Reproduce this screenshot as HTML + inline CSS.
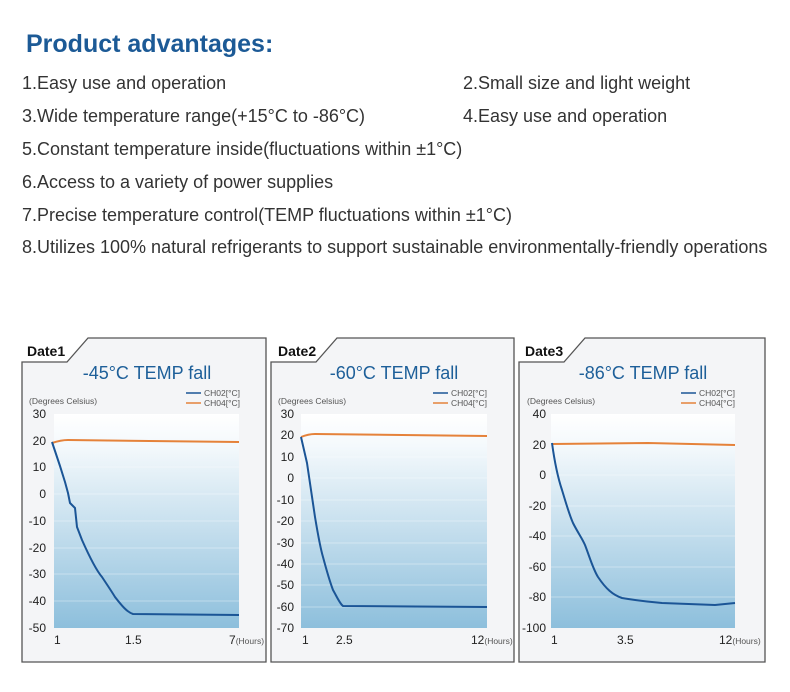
<!DOCTYPE html>
<html><head><meta charset="utf-8"><style>
html,body{margin:0;padding:0;background:#fff;}
svg{display:block;font-family:"Liberation Sans",sans-serif;}
</style></head><body>
<svg width="790" height="692" viewBox="0 0 790 692" xmlns="http://www.w3.org/2000/svg">
<defs>
<linearGradient id="g" x1="0" y1="0" x2="0" y2="1">
<stop offset="0" stop-color="#ffffff"/><stop offset="0.15" stop-color="#f4f9fc"/><stop offset="1" stop-color="#8dbfdc"/>
</linearGradient>
</defs>
<text x="26" y="52" font-size="25" fill="#1c5a96" font-weight="bold">Product advantages:</text>
<g font-size="18" fill="#333">
<text x="22" y="89">1.Easy use and operation</text>
<text x="463" y="89">2.Small size and light weight</text>
<text x="22" y="122">3.Wide temperature range(+15°C to -86°C)</text>
<text x="463" y="122">4.Easy use and operation</text>
<text x="22" y="155">5.Constant temperature inside(fluctuations within ±1°C)</text>
<text x="22" y="188">6.Access to a variety of power supplies</text>
<text x="22" y="221">7.Precise temperature control(TEMP fluctuations within ±1°C)</text>
<text x="22" y="253">8.Utilizes 100% natural refrigerants to support sustainable environmentally-friendly operations</text>
</g>

<!-- Panel frames -->
<g fill="#f4f5f7" stroke="#555" stroke-width="1.3">
<path d="M22,362 L67,362 L88,338 L266,338 L266,662 L22,662 Z"/>
<path d="M271,362 L316,362 L337,338 L514,338 L514,662 L271,662 Z"/>
<path d="M519,362 L564,362 L585,338 L765,338 L765,662 L519,662 Z"/>
</g>
<g font-size="14" font-weight="bold" fill="#111">
<text x="27" y="356">Date1</text><text x="278" y="356">Date2</text><text x="525" y="356">Date3</text>
</g>
<g font-size="18" fill="#1d5f99" text-anchor="middle">
<text x="147" y="379">-45°C TEMP fall</text>
<text x="394" y="379">-60°C TEMP fall</text>
<text x="643" y="379">-86°C TEMP fall</text>
</g>
<g font-size="8.5" fill="#555">
<text x="29" y="404">(Degrees Celsius)</text><text x="278" y="404">(Degrees Celsius)</text><text x="527" y="404">(Degrees Celsius)</text>
<text x="204" y="396">CH02[°C]</text><text x="204" y="406">CH04[°C]</text>
<text x="451" y="396">CH02[°C]</text><text x="451" y="406">CH04[°C]</text>
<text x="699" y="396">CH02[°C]</text><text x="699" y="406">CH04[°C]</text>
</g>
<g stroke-width="1.5">
<line x1="186" y1="393" x2="201" y2="393" stroke="#1b5596"/><line x1="186" y1="403" x2="201" y2="403" stroke="#e5823a"/>
<line x1="433" y1="393" x2="448" y2="393" stroke="#1b5596"/><line x1="433" y1="403" x2="448" y2="403" stroke="#e5823a"/>
<line x1="681" y1="393" x2="696" y2="393" stroke="#1b5596"/><line x1="681" y1="403" x2="696" y2="403" stroke="#e5823a"/>
</g>

<!-- plot areas -->
<rect x="54" y="414" width="185" height="214" fill="url(#g)"/>
<rect x="301" y="414" width="186" height="214" fill="url(#g)"/>
<rect x="551" y="414" width="184" height="214" fill="url(#g)"/>
<g stroke="#ffffff" stroke-opacity="0.35" stroke-width="1">
<path d="M54,441H239M54,467H239M54,494H239M54,521H239M54,548H239M54,574H239M54,601H239"/>
<path d="M301,435H487M301,457H487M301,478H487M301,500H487M301,521H487M301,543H487M301,564H487M301,585H487M301,607H487"/>
<path d="M551,445H735M551,475H735M551,506H735M551,536H735M551,567H735M551,597H735"/>
</g>
<g font-size="12" fill="#222" text-anchor="end">
<text x="46" y="418">30</text><text x="46" y="445">20</text><text x="46" y="471">10</text><text x="46" y="498">0</text><text x="46" y="525">-10</text><text x="46" y="552">-20</text><text x="46" y="578">-30</text><text x="46" y="605">-40</text><text x="46" y="632">-50</text>
<text x="294" y="418">30</text><text x="294" y="439">20</text><text x="294" y="461">10</text><text x="294" y="482">0</text><text x="294" y="504">-10</text><text x="294" y="525">-20</text><text x="294" y="547">-30</text><text x="294" y="568">-40</text><text x="294" y="589">-50</text><text x="294" y="611">-60</text><text x="294" y="632">-70</text>
<text x="546" y="418">40</text><text x="546" y="449">20</text><text x="546" y="479">0</text><text x="546" y="510">-20</text><text x="546" y="540">-40</text><text x="546" y="571">-60</text><text x="546" y="601">-80</text><text x="546" y="632">-100</text>
</g>
<g font-size="12" fill="#222">
<text x="54" y="644">1</text><text x="125" y="644">1.5</text><text x="229" y="644">7<tspan font-size="8.5" fill="#555">(Hours)</tspan></text>
<text x="302" y="644">1</text><text x="336" y="644">2.5</text><text x="471" y="644">12<tspan font-size="8.5" fill="#555">(Hours)</tspan></text>
<text x="551" y="644">1</text><text x="617" y="644">3.5</text><text x="719" y="644">12<tspan font-size="8.5" fill="#555">(Hours)</tspan></text>
</g>

<!-- series -->
<g fill="none" stroke-width="2" stroke-linejoin="round">
<path stroke="#e5823a" d="M52,443 C58,441 62,440 68,440 L239,442"/>
<path stroke="#1b5596" d="M52,442 L60,466 L65,482 L68,493 L70,503 L75,508 L77,527 L82,540 C90,558 96,570 102,577 C108,586 112,592 115,597 C122,606 127,612 133,614 L239,615"/>
<path stroke="#e5823a" d="M301,437 C306,435 310,434 315,434 L487,436"/>
<path stroke="#1b5596" d="M301,437 L307,463 L315,517 C318,535 320,547 323,557 C327,572 330,582 333,590 C337,597 340,604 343,606 L487,607"/>
<path stroke="#e5823a" d="M552,444 L648,443 L735,445"/>
<path stroke="#1b5596" d="M552,443 C555,465 558,478 562,490 C566,503 569,514 573,523 C578,533 582,538 585,545 C590,558 593,569 598,577 C606,589 613,595 622,598 C640,601 650,602 662,603 L715,605 L735,603"/>
</g>
</svg>
</body></html>
